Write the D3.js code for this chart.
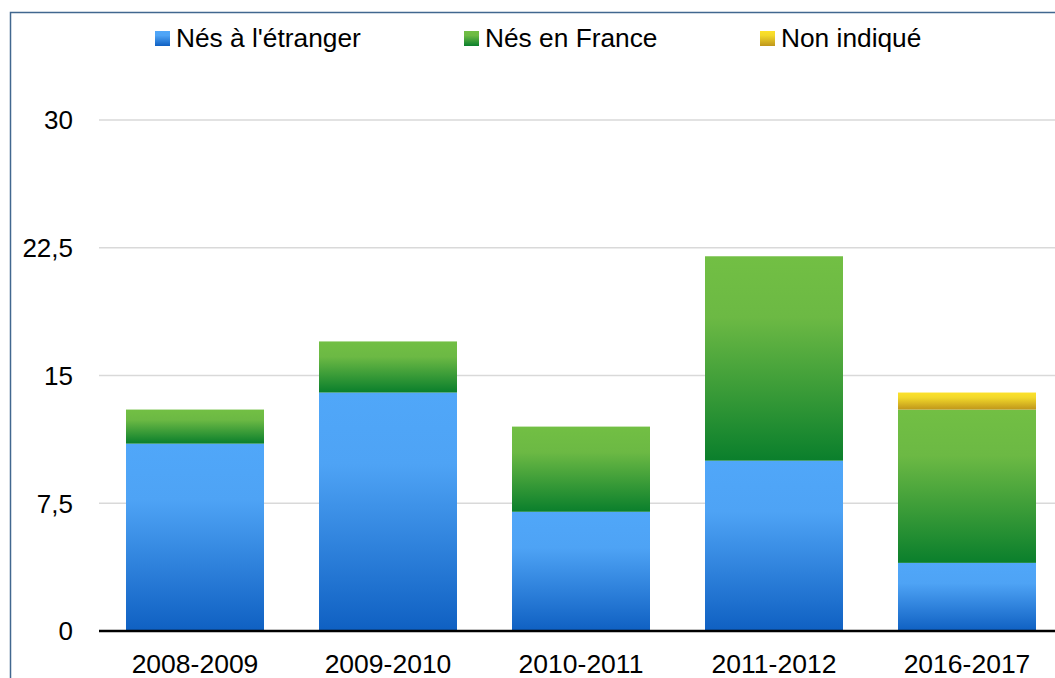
<!DOCTYPE html>
<html lang="fr">
<head>
  <meta charset="UTF-8">
  <title>Nés à l'étranger / Nés en France</title>
  <script src="https://d3js.org/d3.v7.min.js"></script>
  <style>
    html, body { margin: 0; padding: 0; background: #fff; }
    svg { display: block; font-family: "Liberation Sans", Arial, sans-serif; }
    .tick-label { font-size: 26px; fill: #000; }
    .x-label { font-size: 26.5px; fill: #000; }
    .legend-label { font-size: 26.3px; fill: #000; }
  </style>
</head>
<body>
  <svg id="chart" width="1055" height="678"></svg>

  <script>
    // données
    const years = ["2008-2009", "2009-2010", "2010-2011", "2011-2012", "2016-2017"];
    const nesEtranger = [11, 14, 7, 10, 4];
    const nesFrance = [2, 3, 5, 12, 9];
    const nonIndique = [0, 0, 0, 0, 1];
    const seriesNames = ["Nés à l'étranger", "Nés en France", "Non indiqué"];
    const yTicks = [0, 7.5, 15, 22.5, 30];

    const svg = d3.select("#chart");
    const width = +svg.attr("width");
    const height = +svg.attr("height");

    const x = d3.scaleBand().domain(years).range([98.5, 1063.5]).paddingInner(0.285).paddingOuter(0.1425);
    const y = d3.scaleLinear().domain([0, 30]).range([631, 120]);

    // dégradés
    const grads = [
      {id: "gBlue", stops: [[0, "#50a7f9"], [0.3, "#4ea3f5"], [1, "#0f60c2"]]},
      {id: "gGreen", stops: [[0, "#72bf44"], [0.3, "#6cb944"], [1, "#0a7f2c"]]},
      {id: "gYellow", stops: [[0, "#fde22a"], [0.3, "#f2d82a"], [1, "#bf961b"]]}
    ];
    const defs = svg.append("defs");
    grads.forEach(g => {
      const lg = defs.append("linearGradient").attr("id", g.id)
        .attr("x1", 0).attr("y1", 0).attr("x2", 0).attr("y2", 1);
      g.stops.forEach(s => lg.append("stop").attr("offset", s[0]).attr("stop-color", s[1]));
    });

    // cadre
    svg.append("path")
      .attr("d", `M10.5,${height} V12.5 H${width}`)
      .attr("fill", "none").attr("stroke", "#41678f").attr("stroke-width", 1.5);

    // grille
    svg.append("g").selectAll("line")
      .data(yTicks.filter(d => d > 0))
      .join("line")
      .attr("x1", 99).attr("x2", width)
      .attr("y1", d => y(d)).attr("y2", d => y(d))
      .attr("stroke", "#d9d9d9").attr("stroke-width", 1.5);

    // étiquettes Y
    svg.append("g").selectAll("text")
      .data(yTicks)
      .join("text")
      .attr("class", "tick-label")
      .attr("x", 73).attr("y", d => y(d))
      .attr("dy", "0.36em")
      .attr("text-anchor", "end")
      .text(d => String(d).replace(".", ","));

    // barres empilées
    const table = years.map((yr, i) => ({year: yr, a: nesEtranger[i], b: nesFrance[i], c: nonIndique[i]}));
    const stack = d3.stack().keys(["a", "b", "c"])(table);
    const fills = ["url(#gBlue)", "url(#gGreen)", "url(#gYellow)"];

    svg.append("g").selectAll("g")
      .data(stack)
      .join("g")
      .attr("fill", (d, i) => fills[i])
      .selectAll("rect")
      .data(d => d.filter(p => p[1] > p[0]))
      .join("rect")
      .attr("x", d => x(d.data.year))
      .attr("width", x.bandwidth())
      .attr("y", d => y(d[1]))
      .attr("height", d => y(d[0]) - y(d[1]));

    // axe X
    svg.append("line")
      .attr("x1", 99).attr("x2", width)
      .attr("y1", y(0)).attr("y2", y(0))
      .attr("stroke", "#000").attr("stroke-width", 2.5);

    svg.append("g").selectAll("text")
      .data(years)
      .join("text")
      .attr("class", "x-label")
      .attr("x", d => x(d) + x.bandwidth() / 2)
      .attr("y", 673)
      .attr("text-anchor", "middle")
      .text(d => d);

    // légende
    const legendX = [155, 464, 760];
    const legend = svg.append("g").selectAll("g")
      .data(seriesNames)
      .join("g")
      .attr("transform", (d, i) => `translate(${legendX[i]},0)`);
    legend.append("rect")
      .attr("x", 0).attr("y", 31).attr("width", 15).attr("height", 15)
      .attr("fill", (d, i) => fills[i]);
    legend.append("text")
      .attr("class", "legend-label")
      .attr("x", 21).attr("y", 47)
      .text(d => d);
  </script>
</body>
</html>
